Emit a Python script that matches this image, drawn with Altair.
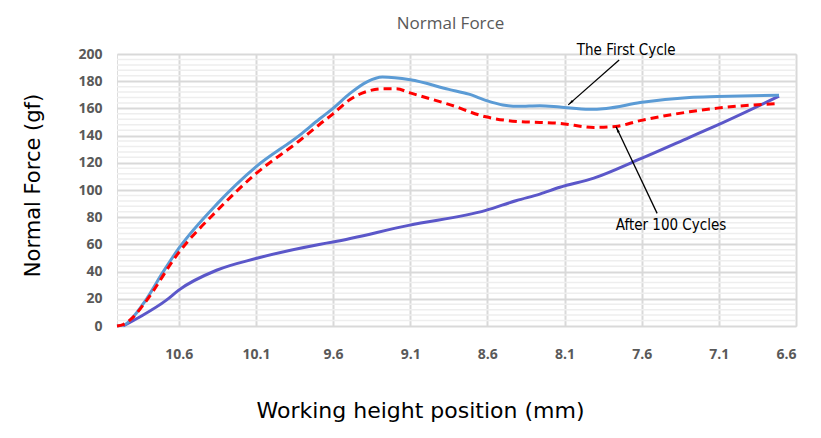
import altair as alt
import pandas as pd

# ---- data ----
x_first = [11.0, 10.95, 10.9, 10.82, 10.7, 10.6, 10.35, 10.1, 9.82, 9.69, 9.6, 9.49, 9.38, 9.28,
           9.1, 8.85, 8.72, 8.6, 8.5, 8.4, 8.26, 8.13, 7.94, 7.83, 7.61, 7.29, 7.11, 6.71]
y_first = [0, 1, 6, 18, 40, 57, 90, 117, 140, 152, 160, 171, 179.5, 183,
           181, 174, 170.5, 165.5, 162.5, 161.5, 162, 161, 159.3, 160, 164.3, 168, 168.7, 169.7]

x_after = [11.0, 10.96, 10.9, 10.82, 10.6, 10.35, 10.1, 9.82, 9.69, 9.6, 9.49, 9.38, 9.28, 9.19,
           9.1, 9.0, 8.85, 8.61, 8.41, 8.26, 8.13, 7.91, 7.77, 7.61, 7.29, 7.11, 6.71]
y_after = [0, 1, 6, 17, 54, 85, 112, 136, 148, 156, 166.5, 172.5, 174.4, 174.4,
           171.4, 168, 163, 153.8, 150.4, 149.7, 149, 146, 146.7, 151, 157.5, 160.2, 163.6]

x_unload = [10.96, 10.85, 10.68, 10.6, 10.355, 10.1, 9.69, 9.6, 9.11, 8.61, 8.41, 8.26, 8.13,
            7.91, 7.61, 7.29, 7.11, 6.71]
y_unload = [0, 6.8, 19, 26.4, 41, 49.6, 60, 61.8, 74, 85, 92.3, 97, 102,
            108.7, 122.8, 138.7, 147.7, 169]

x_ticks = [10.6, 10.1, 9.6, 9.1, 8.6, 8.1, 7.6, 7.1, 6.6]
y_ticks = [0, 20, 40, 60, 80, 100, 120, 140, 160, 180, 200]
minor_y = [v for v in range(4, 200, 4) if v % 20]

ann_text = ["The First Cycle", "After 100 Cycles"]
ann_tx = [7.70, 7.41]
ann_ty = [203.0, 74.5]
arrow_x0 = [7.746, 7.50]
arrow_y0 = [195.6, 82.8]
arrow_x1 = [8.076, 7.766]
arrow_y1 = [162.6, 146.5]
arrow_angle = [228.6, 334.8]

# ---- tables ----
df_first = pd.DataFrame({"x": x_first, "y": y_first})
df_after = pd.DataFrame({"x": x_after, "y": y_after})
df_unload = pd.DataFrame({"x": x_unload, "y": y_unload})
df_minor = pd.DataFrame({"y": minor_y})
df_text = pd.DataFrame({"t": ann_text, "x": ann_tx, "y": ann_ty})
df_arrow = pd.DataFrame({"x": arrow_x0, "y": arrow_y0, "x2": arrow_x1, "y2": arrow_y1,
                         "angle": arrow_angle})

xscale = alt.Scale(domain=[6.6, 11.0], reverse=True, nice=False, zero=False)
yscale = alt.Scale(domain=[0, 200], nice=False)

xaxis = alt.Axis(values=x_ticks, format=".1f", tickCount=20, grid=True, gridColor="#D9D9D9",
                 gridWidth=2, domain=False, ticks=False, labelPadding=21, labelFont="Open Sans",
                 labelFontWeight="bold", labelFontSize=14, labelColor="#595959",
                 labelOverlap=False,
                 title="Working height position (mm)", titleFont="DejaVu Sans",
                 titleFontSize=22, titleFontWeight="normal", titleColor="#000000",
                 titleX=303, titleY=84, titleBaseline="middle", titleAlign="center")
yaxis = alt.Axis(values=y_ticks, format="d", tickCount=20, grid=True, gridColor="#D9D9D9",
                 gridWidth=2, domain=False, ticks=False, labelPadding=15, labelFont="Open Sans",
                 labelFontWeight="bold", labelFontSize=14, labelColor="#595959",
                 labelOverlap=False,
                 title="Normal Force (gf)", titleFont="DejaVu Sans", titleFontSize=21,
                 titleFontWeight="normal", titleColor="#000000", titleAngle=-90,
                 titleX=-84, titleY=131, titleBaseline="middle", titleAlign="center")

base_x = alt.X("x:Q", scale=xscale, axis=xaxis)
base_y = alt.Y("y:Q", scale=yscale, axis=yaxis)

minor = alt.Chart(df_minor).mark_rule(color="#EEEEEE", strokeWidth=1.5).encode(
    y=alt.Y("y:Q", scale=yscale, axis=yaxis))


def line(df, color, dash=None):
    kw = dict(color=color, strokeWidth=3, interpolate="monotone", strokeCap="butt")
    if dash:
        kw["strokeDash"] = dash
    return alt.Chart(df).mark_line(**kw).encode(
        x=base_x, y=base_y, order=alt.Order("x:Q", sort="descending"))


l_unload = line(df_unload, "#5B57C9")
l_first = line(df_first, "#5B9BD5")
l_after = line(df_after, "#FF0000", [8, 5])

arrows = alt.Chart(df_arrow).mark_rule(color="#000000", strokeWidth=1.3).encode(
    x=alt.X("x:Q", scale=xscale), y=alt.Y("y:Q", scale=yscale), x2="x2:Q", y2="y2:Q")
heads = alt.Chart(df_arrow).mark_point(
    shape="M0,0L-0.42,2L0.42,2Z", filled=True, opacity=1, color="#000000", size=36,
    strokeWidth=0).encode(
    x=alt.X("x2:Q", scale=xscale), y=alt.Y("y2:Q", scale=yscale), angle=alt.Angle("angle:Q", scale=None))
texts = alt.Chart(df_text).mark_text(font="DejaVu Sans Condensed", fontSize=15,
                                     color="#000000", align="center", baseline="middle").encode(
    x=alt.X("x:Q", scale=xscale), y=alt.Y("y:Q", scale=yscale), text="t:N")

chart = alt.layer(minor, l_unload, l_first, l_after, arrows, heads, texts).properties(
    width=679, height=272,
    title=alt.TitleParams("Normal Force", font="Open Sans", fontSize=17, fontWeight="normal",
                          color="#595959", anchor="middle", frame="group", offset=10, dx=-6),
    autosize=alt.AutoSizeParams(type="none"),
    padding={"left": 109, "top": 46, "right": 17, "bottom": 104},
).configure_view(stroke="#D9D9D9", strokeWidth=2).configure(background="white")

chart.save("out.html", embed_options={"renderer": "svg", "actions": False})
